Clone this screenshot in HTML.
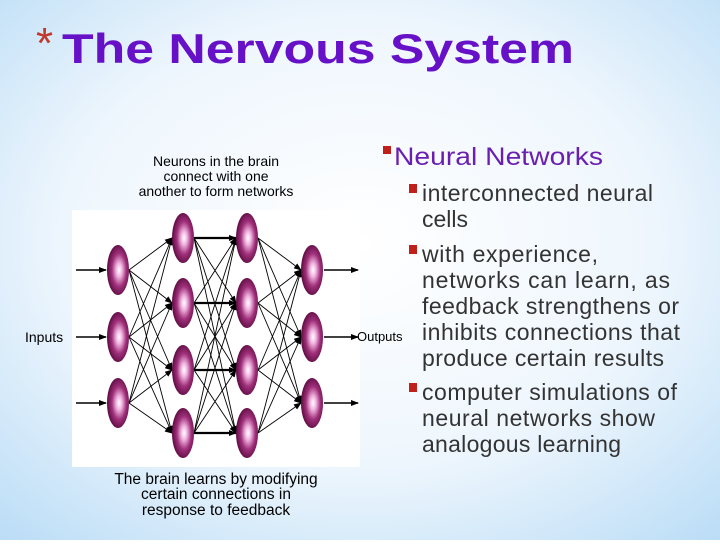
<!DOCTYPE html>
<html><head><meta charset="utf-8"><style>
body{margin:0;width:720px;height:540px;overflow:hidden;}
</style></head><body>
<svg width="720" height="540" xmlns="http://www.w3.org/2000/svg" font-family="Liberation Sans, Arial, sans-serif">
<defs>
<radialGradient id="bg" cx="0.5" cy="0.45" r="0.75">
<stop offset="0" stop-color="#ffffff"/><stop offset="0.55" stop-color="#eef6fd"/><stop offset="1" stop-color="#b9dcf6"/>
</radialGradient>
<radialGradient id="nd" cx="0.55" cy="0.5" r="0.55">
<stop offset="0" stop-color="#ffffff"/><stop offset="0.25" stop-color="#f0b4e0"/><stop offset="0.6" stop-color="#a0307a"/><stop offset="1" stop-color="#5a0a40"/>
</radialGradient>
<marker id="ar" markerWidth="8" markerHeight="6" refX="7" refY="3" orient="auto" markerUnits="userSpaceOnUse"><path d="M0,0L8,3L0,6z" fill="#000"/></marker>
</defs>
<rect width="720" height="540" fill="url(#bg)"/>
<text x="36" y="58" font-size="44" fill="#c0392b">*</text>
<text x="62" y="63" font-size="42" font-weight="bold" fill="#6611c8" textLength="512" lengthAdjust="spacingAndGlyphs">The Nervous System</text>
<g font-size="14" fill="#000" text-anchor="middle">
<text x="216" y="166">Neurons in the brain</text>
<text x="216" y="181">connect with one</text>
<text x="216" y="196">another to form networks</text>
</g>
<g font-size="15.5" fill="#000" text-anchor="middle">
<text x="216" y="484">The brain learns by modifying</text>
<text x="216" y="499">certain connections in</text>
<text x="216" y="515">response to feedback</text>
</g>
<rect x="72" y="210" width="288" height="257" fill="#fff"/>
<g id="net" stroke="#000" stroke-width="0.9" fill="none" marker-end="url(#ar)"></g>
<g id="nodes"></g>
<text x="25" y="342" font-size="14">Inputs</text>
<text x="357" y="341" font-size="13">Outputs</text>
<rect x="383" y="146" width="8" height="8" fill="#c0201a"/>
<text x="394" y="165" font-size="25" fill="#6a1fb0" textLength="209" lengthAdjust="spacingAndGlyphs">Neural Networks</text>
<g fill="#c0201a"><rect x="409" y="184" width="8" height="9"/><rect x="409" y="245" width="8" height="9"/><rect x="409" y="383" width="8" height="9"/></g>
<g font-size="23" fill="#333" lengthAdjust="spacingAndGlyphs">
<text x="422" y="201" textLength="231">interconnected neural</text>
<text x="422" y="227">cells</text>
<text x="422" y="262" textLength="176">with experience,</text>
<text x="422" y="288" textLength="248">networks can learn, as</text>
<text x="422" y="314" textLength="257">feedback strengthens or</text>
<text x="422" y="340" textLength="258">inhibits connections that</text>
<text x="422" y="366" textLength="242">produce certain results</text>
<text x="422" y="400" textLength="255">computer simulations of</text>
<text x="422" y="426" textLength="233">neural networks show</text>
<text x="422" y="452" textLength="199">analogous learning</text>
</g>
</svg>
<script>
var L=[[118,[270,337,403]],[183,[238,303,370,433]],[247,[238,303,370,433]],[312,[270,337,403]]];
var ns="http://www.w3.org/2000/svg",g=document.getElementById('net'),nd=document.getElementById('nodes');
function line(x1,y1,x2,y2,w){var l=document.createElementNS(ns,'line');l.setAttribute('x1',x1);l.setAttribute('y1',y1);l.setAttribute('x2',x2);l.setAttribute('y2',y2);if(w)l.setAttribute('stroke-width',w);g.appendChild(l);}
for(var i=0;i<3;i++){var a=L[i],b=L[i+1];a[1].forEach(function(y1){b[1].forEach(function(y2){var w=(i==1&&y1==y2)?2.2:null;line(a[0]+11,y1,b[0]-11,y2,w);});});}
L[0][1].forEach(function(y){line(76,y,106,y,1.5);});
L[3][1].forEach(function(y){line(324,y,358,y,1.5);});
L.forEach(function(c){c[1].forEach(function(y){var e=document.createElementNS(ns,'ellipse');e.setAttribute('cx',c[0]);e.setAttribute('cy',y);e.setAttribute('rx',11);e.setAttribute('ry',25);e.setAttribute('fill','url(#nd)');nd.appendChild(e);});});
</script>
</body></html>
